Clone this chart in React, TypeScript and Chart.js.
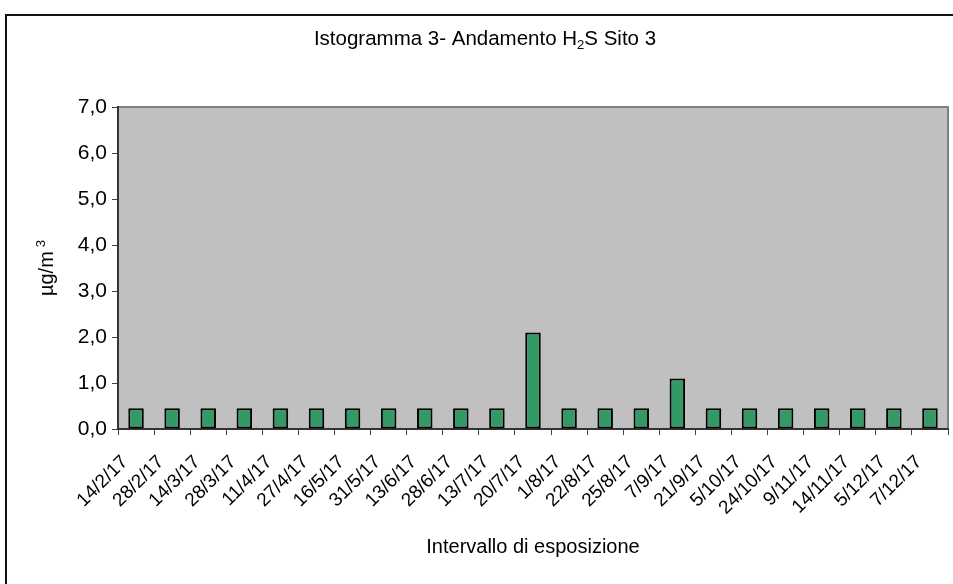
import { useEffect, useRef } from "react";
import { Chart, registerables } from "chart.js";

Chart.register(...registerables);

const categories = [
  "14/2/17", "28/2/17", "14/3/17", "28/3/17", "11/4/17", "27/4/17",
  "16/5/17", "31/5/17", "13/6/17", "28/6/17", "13/7/17", "20/7/17",
  "1/8/17", "22/8/17", "25/8/17", "7/9/17", "21/9/17", "5/10/17",
  "24/10/17", "9/11/17", "14/11/17", "5/12/17", "7/12/17",
];

const values = [
  0.45, 0.45, 0.45, 0.45, 0.45, 0.45,
  0.45, 0.45, 0.45, 0.45, 0.45, 2.1,
  0.45, 0.45, 0.45, 1.1, 0.45, 0.45,
  0.45, 0.45, 0.45, 0.45, 0.45,
];

const yTicks = [0, 1, 2, 3, 4, 5, 6, 7];

const titleParts = ["Istogramma 3- Andamento H", "2", "S Sito 3"];
const yTitleParts = ["µg/m", "3"];
const xTitle = "Intervallo di esposizione";

const FONT = "'Liberation Sans', Arial, sans-serif";

const decorPlugin = {
  id: "decor",
  beforeDraw(chart: any) {
    const { ctx, chartArea } = chart;
    const { left, top, right, bottom } = chartArea;
    ctx.save();
    ctx.fillStyle = "#C0C0C0";
    ctx.fillRect(left, top, right - left, bottom - top);
    ctx.strokeStyle = "#808080";
    ctx.lineWidth = 2;
    ctx.beginPath();
    ctx.moveTo(left, top);
    ctx.lineTo(right, top);
    ctx.lineTo(right, bottom);
    ctx.stroke();
    ctx.restore();
  },
  afterDraw(chart: any) {
    const { ctx, chartArea } = chart;
    ctx.save();
    ctx.fillStyle = "#000";
    ctx.textBaseline = "alphabetic";
    ctx.textAlign = "left";

    // Title with subscript
    const big = `20.5px ${FONT}`;
    const small = `13px ${FONT}`;
    ctx.font = big;
    const w0 = ctx.measureText(titleParts[0]).width;
    const w2 = ctx.measureText(titleParts[2]).width;
    ctx.font = small;
    const w1 = ctx.measureText(titleParts[1]).width;
    const total = w0 + w1 + w2;
    let x = 485 - total / 2;
    const baseY = 45;
    ctx.font = big;
    ctx.fillText(titleParts[0], x, baseY);
    x += w0;
    ctx.font = small;
    ctx.fillText(titleParts[1], x, baseY + 4);
    x += w1;
    ctx.font = big;
    ctx.fillText(titleParts[2], x, baseY);

    // Y axis title rotated with superscript
    const ybig = `20px ${FONT}`;
    ctx.save();
    ctx.translate(53, (chartArea.top + chartArea.bottom) / 2);
    ctx.rotate(-Math.PI / 2);
    ctx.font = ybig;
    const yw0 = ctx.measureText(yTitleParts[0]).width;
    ctx.font = small;
    const yw1 = ctx.measureText(yTitleParts[1]).width;
    const gap = 4;
    const ytot = yw0 + gap + yw1;
    let yx = -ytot / 2;
    ctx.font = ybig;
    ctx.fillText(yTitleParts[0], yx, 0);
    yx += yw0 + gap;
    ctx.font = small;
    ctx.fillText(yTitleParts[1], yx, -8);
    ctx.restore();

    // X axis title
    ctx.font = ybig;
    ctx.textAlign = "center";
    ctx.textBaseline = "middle";
    ctx.fillText(xTitle, (chartArea.left + chartArea.right) / 2, 547);
    ctx.restore();
  },
};

export default function App() {
  const canvasRef = useRef<HTMLCanvasElement | null>(null);

  useEffect(() => {
    const canvas = canvasRef.current;
    if (!canvas) return;
    const chart = new Chart(canvas, {
      type: "bar",
      data: {
        labels: categories,
        datasets: [
          {
            data: values,
            backgroundColor: "#339966",
            borderColor: "#000000",
            borderWidth: 2,
            borderSkipped: false,
            barPercentage: 0.43,
            categoryPercentage: 1,
          },
        ],
      },
      options: {
        responsive: false,
        animation: false,
        devicePixelRatio: 1,
        layout: { padding: { top: 107, right: 5, left: 0, bottom: 0 } },
        plugins: {
          legend: { display: false },
          tooltip: { enabled: false },
          title: { display: false },
        },
        scales: {
          x: {
            type: "category",
            offset: true,
            grid: {
              display: true,
              offset: true,
              drawOnChartArea: false,
              drawTicks: true,
              tickLength: 6,
              color: "#444",
              lineWidth: 1,
            },
            border: { display: true, color: "#333", width: 2 },
            ticks: {
              autoSkip: false,
              maxRotation: 45,
              minRotation: 45,
              padding: 16,
              labelOffset: -11,
              color: "#000",
              font: { family: FONT, size: 19 },
            },
            afterFit: (s: any) => {
              s.height = 584 - 429;
              s.paddingLeft = 0;
              s.paddingRight = 0;
            },
          },
          y: {
            min: yTicks[0],
            max: yTicks[yTicks.length - 1],
            afterBuildTicks: (s: any) => {
              s.ticks = yTicks.map((v) => ({ value: v }));
            },
            grid: {
              display: true,
              drawOnChartArea: false,
              drawTicks: true,
              tickLength: 6,
              color: "#444",
              lineWidth: 1,
            },
            border: { display: true, color: "#333", width: 2 },
            ticks: {
              padding: 5,
              color: "#000",
              font: { family: FONT, size: 21 },
              callback: (v: any) => Number(v).toFixed(1).replace(".", ","),
            },
            afterFit: (s: any) => {
              s.width = 118;
              s.paddingTop = 0;
              s.paddingBottom = 0;
            },
          },
        },
      },
      plugins: [decorPlugin],
    });
    return () => chart.destroy();
  }, []);

  return (
    <div
      style={{
        position: "fixed",
        left: 0,
        top: 0,
        width: 953,
        height: 584,
        overflow: "hidden",
        background: "#fff",
      }}
    >
      <div
        style={{
          position: "absolute",
          left: 5,
          top: 14,
          width: 2000,
          height: 2000,
          borderLeft: "2px solid #111",
          borderTop: "2px solid #111",
        }}
      />
      <canvas
        ref={canvasRef}
        width={953}
        height={584}
        style={{ position: "absolute", left: 0, top: 0, width: 953, height: 584 }}
      />
    </div>
  );
}
